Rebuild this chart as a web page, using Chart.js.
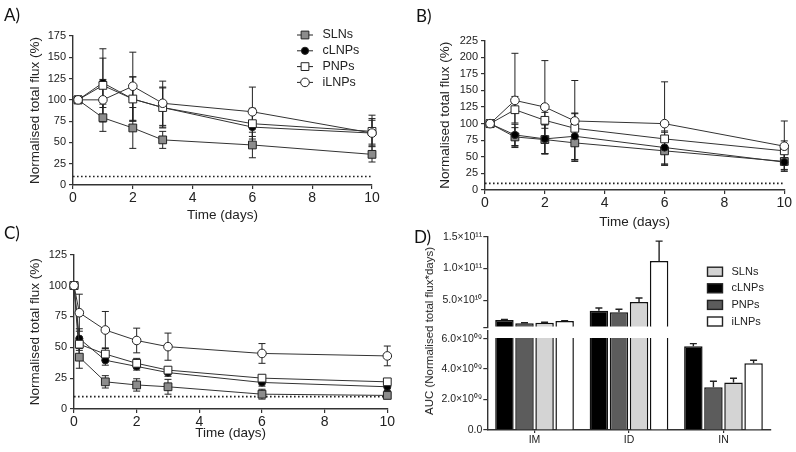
<!DOCTYPE html>
<html lang="en">
<head>
<meta charset="UTF-8">
<title>Normalised total flux</title>
<script src="https://cdn.jsdelivr.net/npm/chart.js@4.4.1/dist/chart.umd.min.js"></script>
<style>
  body { margin: 0; background: #fff; }
  #fig { position: relative; width: 796px; height: 452px; overflow: hidden; font-family: "Liberation Sans", Arial, sans-serif; }
  canvas { position: absolute; }
  .tag { position: absolute; font-family: Lato, "Open Sans", sans-serif; font-size: 17px; line-height: 17px; color: #111; }
  .ytitle { position: absolute; font-size: 11.5px; color: #222; white-space: nowrap; transform: translate(-50%, -50%) rotate(-90deg); }
</style>
</head>
<body>
<div id="fig">
  <canvas id="chartA" width="398" height="223" style="left:0;top:0"></canvas>
  <canvas id="chartB" width="396" height="230" style="left:400px;top:0"></canvas>
  <canvas id="chartC" width="398" height="228" style="left:0;top:224px"></canvas>
  <canvas id="chartDtop" width="396" height="228" style="left:400px;top:224px"></canvas>
  <canvas id="chartDlow" width="396" height="228" style="left:400px;top:224px"></canvas>
  <div class="tag" style="left:4px;top:6px">A)</div>
  <div class="tag" style="left:416px;top:7px">B)</div>
  <div class="tag" style="left:4px;top:224px">C)</div>
  <div class="tag" style="left:414px;top:228px">D)</div>
  <div class="ytitle" style="left:429px;top:331px">AUC (Normalised total flux*days)</div>
</div>

<script>
// time points (days)
const daysAB = [0.17, 1, 2, 3, 6, 10];
const daysC = [0, 0.17, 1, 2, 3, 6, 10];
const dayRange = [0, 10];
const detectionLimit = 10;

const names = ['SLNs', 'cLNPs', 'PNPs', 'iLNPs'];

// A)
const slnA = [100, 79, 67, 53, 47, 36];
const clnpA = [100, 120, 101, 91, 68, 61];
const pnpA = [100, 117, 101, 91, 72, 63];
const ilnpA = [100, 100, 116, 96, 86, 61];
const slnAErr = [0, 16, 24, 10, 15, 9];
const clnpAErr = [0, 29, 26, 23, 22, 15];
const pnpAErr = [0, 43, 26, 24, 18, 15];
const ilnpAErr = [0, 24, 40, 26, 29, 21];

// B)
const slnB = [100, 80, 76, 71, 59, 43];
const clnpB = [100, 83, 77, 81, 64, 42];
const pnpB = [100, 121, 105, 93, 77, 59];
const ilnpB = [100, 135, 125, 104, 100, 66];
const slnBErr = [0, 14, 22, 26, 20, 12];
const clnpBErr = [0, 16, 22, 35, 25, 12];
const pnpBErr = [0, 20, 12, 22, 10, 15];
const ilnpBErr = [0, 71, 70, 61, 63, 38];

// C)
const slnC = [100, 42, 22, 19.5, 18, 12, 11];
const clnpC = [100, 57, 39.5, 34.5, 29.5, 21.5, 18];
const pnpC = [100, 52.5, 44.5, 37, 31.5, 25, 22];
const ilnpC = [100, 78, 64, 55.5, 50.5, 45, 43];
const slnCErr = [0, 9, 5, 5, 6, 4, 2];
const clnpCErr = [0, 8, 4, 3, 3, 3, 3];
const pnpCErr = [0, 5, 5, 4, 2, 2, 2];
const ilnpCErr = [0, 15, 15, 10, 11, 8, 8];

// D) AUC per route
const routes = ['IM', 'ID', 'IN'];
const aucNames = ['cLNPs', 'PNPs', 'SLNs', 'iLNPs'];
const aucClnp = [1.91e10, 3.37e10, 5.5e9];
const aucPnp = [1.39e10, 3.12e10, 2.8e9];
const aucSln = [1.48e10, 4.73e10, 3.12e9];
const aucIlnp = [1.75e10, 1.12e11, 4.38e9];
const aucClnpErr = [1.0e9, 4.3e9, 1.7e8];
const aucPnpErr = [8e8, 4.8e9, 4e8];
const aucSlnErr = [7e8, 6.3e9, 2.8e8];
const aucIlnpErr = [6e8, 3.1e10, 2e8];
const aucTopTicks = [6.5e9, 5e10, 1e11, 1.5e11];
const aucTopLabels = ['', '5.0×10¹⁰', '1.0×10¹¹', '1.5×10¹¹'];
const aucLowTicks = [0, 2e9, 4e9, 6e9];
const aucLowLabels = ['0.0', '2.0×10⁰⁹', '4.0×10⁰⁹', '6.0×10⁰⁹'];

Chart.defaults.font.family = '"Liberation Sans", Arial, sans-serif';
Chart.defaults.color = '#222';

const markerStyle = {
  SLNs: {pointStyle: 'rect', pointRadius: 5.5, pointBackgroundColor: '#8c8c8c'},
  cLNPs: {pointStyle: 'circle', pointRadius: 3.6, pointBackgroundColor: '#000'},
  PNPs: {pointStyle: 'rect', pointRadius: 5.5, pointBackgroundColor: '#fff'},
  iLNPs: {pointStyle: 'circle', pointRadius: 4.3, pointBackgroundColor: '#fff'}
};
const barFill = {cLNPs: '#000', PNPs: '#5c5c5c', SLNs: '#d4d4d4', iLNPs: '#fff'};

function makeErrorBars(cfg) {
  return {
    id: 'errorBars',
    beforeDatasetsDraw(chart) {
      const ctx = chart.ctx, a = chart.chartArea;
      ctx.save();
      if (cfg.clip) {
        ctx.beginPath();
        ctx.rect(a.left, a.top, a.right - a.left, a.bottom - a.top);
        ctx.clip();
      }
      ctx.strokeStyle = '#222';
      ctx.lineWidth = cfg.lineWidth;
      chart.data.datasets.forEach((ds, i) => {
        if (!ds.errors) return;
        const meta = chart.getDatasetMeta(i);
        const ys = chart.scales[meta.yAxisID];
        meta.data.forEach((el, j) => {
          const e = ds.errors[j];
          if (!e) return;
          const raw = ds.data[j];
          const v = typeof raw === 'object' ? raw.y : raw;
          // bar hidden below this segment of the broken axis
          if (cfg.clip && v + e <= ys.min) return;
          const top = ys.getPixelForValue(v + e);
          const bot = cfg.upOnly ? el.y : ys.getPixelForValue(v - e);
          ctx.beginPath();
          ctx.moveTo(el.x, top); ctx.lineTo(el.x, bot);
          ctx.moveTo(el.x - cfg.cap, top); ctx.lineTo(el.x + cfg.cap, top);
          if (!cfg.upOnly) { ctx.moveTo(el.x - cfg.cap, bot); ctx.lineTo(el.x + cfg.cap, bot); }
          ctx.stroke();
        });
      });
      ctx.restore();
    }
  };
}

function makeLegend(cfg) {
  return {
    id: 'panelLegend',
    afterDraw(chart) {
      const ctx = chart.ctx;
      ctx.save();
      ctx.font = cfg.fontSize + 'px "Liberation Sans", Arial, sans-serif';
      ctx.textBaseline = 'middle';
      cfg.order.forEach((idx, k) => {
        const ds = chart.data.datasets[idx];
        const y = cfg.y + k * cfg.gap;
        ctx.strokeStyle = '#222';
        if (cfg.boxes) {
          ctx.lineWidth = 1.4;
          ctx.fillStyle = ds.backgroundColor;
          ctx.fillRect(cfg.x, y - 4.5, 15, 9);
          ctx.strokeRect(cfg.x, y - 4.5, 15, 9);
        } else {
          ctx.lineWidth = 1;
          ctx.beginPath(); ctx.moveTo(cfg.x - 8, y); ctx.lineTo(cfg.x + 8, y); ctx.stroke();
          ctx.fillStyle = ds.pointBackgroundColor;
          ctx.beginPath();
          if (ds.pointStyle === 'rect') {
            const s = ds.pointRadius * Math.SQRT1_2;
            ctx.rect(cfg.x - s, y - s, 2 * s, 2 * s);
          } else {
            ctx.arc(cfg.x, y, ds.pointRadius, 0, 2 * Math.PI);
          }
          ctx.fill(); ctx.stroke();
        }
        ctx.fillStyle = '#222';
        ctx.fillText(ds.label, cfg.textX, y);
      });
      ctx.restore();
    }
  };
}

function axisLook(fontSize, tickLen) {
  return {
    border: {display: true, color: '#333', width: 1.4},
    grid: {display: true, drawOnChartArea: false, drawTicks: true, tickLength: tickLen, color: '#333', lineWidth: 1.2, offset: false},
    ticks: {color: '#222', padding: 2, font: {size: fontSize}}
  };
}

function fluxChart(id, days, values, errors, yMax, box, legend) {
  const datasets = names.map((name, i) => Object.assign({
    label: name,
    data: days.map((d, j) => ({x: d, y: values[i][j]})),
    errors: errors[i],
    borderColor: '#333', borderWidth: 1,
    pointBorderColor: '#222', pointBorderWidth: 1,
    clip: false,
    order: 4 - i
  }, markerStyle[name]));
  datasets.push({
    label: 'limit',
    data: dayRange.map(d => ({x: d, y: detectionLimit})),
    borderColor: '#222', borderWidth: 1.6, borderDash: [1.6, 2.4],
    pointRadius: 0, order: 10
  });

  const x = axisLook(14, 4);
  Object.assign(x, {
    type: 'linear', min: dayRange[0], max: dayRange[1],
    title: {display: true, text: 'Time (days)', font: {size: 13.5}, padding: 0, color: '#222'},
    afterFit: s => { s.height = box.xh; }
  });
  x.ticks.stepSize = 2;
  x.ticks.padding = 1;
  const y = axisLook(11, 4);
  Object.assign(y, {
    min: 0, max: yMax,
    title: {display: true, text: 'Normalised total flux (%)', font: {size: 13.5}, padding: 0, color: '#222'},
    afterFit: s => { s.width = box.yw; }
  });
  y.ticks.stepSize = 25;
  y.ticks.padding = 3;

  const plugins = [makeErrorBars({lineWidth: 1, cap: 3.5, upOnly: false, clip: false})];
  if (legend) plugins.push(makeLegend(legend));

  return new Chart(document.getElementById(id), {
    type: 'line',
    data: {datasets},
    options: {
      responsive: false, animation: false,
      layout: {padding: box.pad},
      plugins: {legend: {display: false}, tooltip: {enabled: false}},
      scales: {x, y}
    },
    plugins
  });
}

fluxChart('chartA', daysAB, [slnA, clnpA, pnpA, ilnpA], [slnAErr, clnpAErr, pnpAErr, ilnpAErr], 175,
  {pad: {left: 27, right: 26, top: 36, bottom: 0}, yw: 46, xh: 38},
  {order: [0, 1, 2, 3], x: 305, textX: 322.5, y: 35, gap: 15.8, fontSize: 12.5});

fluxChart('chartB', daysAB, [slnB, clnpB, pnpB, ilnpB], [slnBErr, clnpBErr, pnpBErr, ilnpBErr], 225,
  {pad: {left: 37.6, right: 11.7, top: 40.7, bottom: 0}, yw: 47.4, xh: 40});

fluxChart('chartC', daysC, [slnC, clnpC, pnpC, ilnpC], [slnCErr, clnpCErr, pnpCErr, ilnpCErr], 125,
  {pad: {left: 27, right: 10.7, top: 30.7, bottom: 10.9}, yw: 47, xh: 32.1});

// D) broken axis: two charts sharing the same bars
function aucChart(id, tickValues, tickLabels, yMin, yMax, showX, pad, legend) {
  const values = [aucClnp, aucPnp, aucSln, aucIlnp];
  const errors = [aucClnpErr, aucPnpErr, aucSlnErr, aucIlnpErr];
  const datasets = aucNames.map((name, i) => ({
    label: name,
    data: values[i],
    errors: errors[i],
    backgroundColor: barFill[name],
    borderColor: '#111', borderWidth: 1.5,
    categoryPercentage: 0.85, barPercentage: 0.92,
    clip: showX ? {left: 2, top: -7, right: 2, bottom: 2} : {left: 2, top: 2, right: 2, bottom: -1.5}
  }));

  const x = axisLook(10.5, 3);
  x.display = showX;
  if (showX) x.afterFit = s => { s.height = 22; };
  x.ticks.padding = 1;
  const y = axisLook(10.5, 4);
  Object.assign(y, {
    min: yMin, max: yMax,
    afterBuildTicks: s => { s.ticks = tickValues.map(v => ({value: v})); },
    afterFit: s => { s.width = 57.3; }
  });
  y.ticks.padding = 1;
  y.ticks.callback = (v, i) => tickLabels[i];

  const plugins = [makeErrorBars({lineWidth: 1.4, cap: 3.5, upOnly: true, clip: true})];
  if (legend) plugins.push(makeLegend(legend));

  return new Chart(document.getElementById(id), {
    type: 'bar',
    data: {labels: routes, datasets},
    options: {
      responsive: false, animation: false,
      layout: {padding: pad},
      plugins: {legend: {display: false}, tooltip: {enabled: false}},
      scales: {x, y}
    },
    plugins
  });
}

aucChart('chartDtop', aucTopTicks, aucTopLabels, aucTopTicks[0], 1.5e11, false,
  {left: 30, right: 25.3, top: 12.7, bottom: 124},
  {boxes: true, order: [2, 0, 1, 3], x: 307.5, textX: 331.5, y: 47.7, gap: 16.6, fontSize: 11});

aucChart('chartDlow', aucLowTicks, aucLowLabels, 0, 6.5e9, true,
  {left: 30, right: 25.3, top: 107, bottom: 0});
</script>
</body>
</html>
